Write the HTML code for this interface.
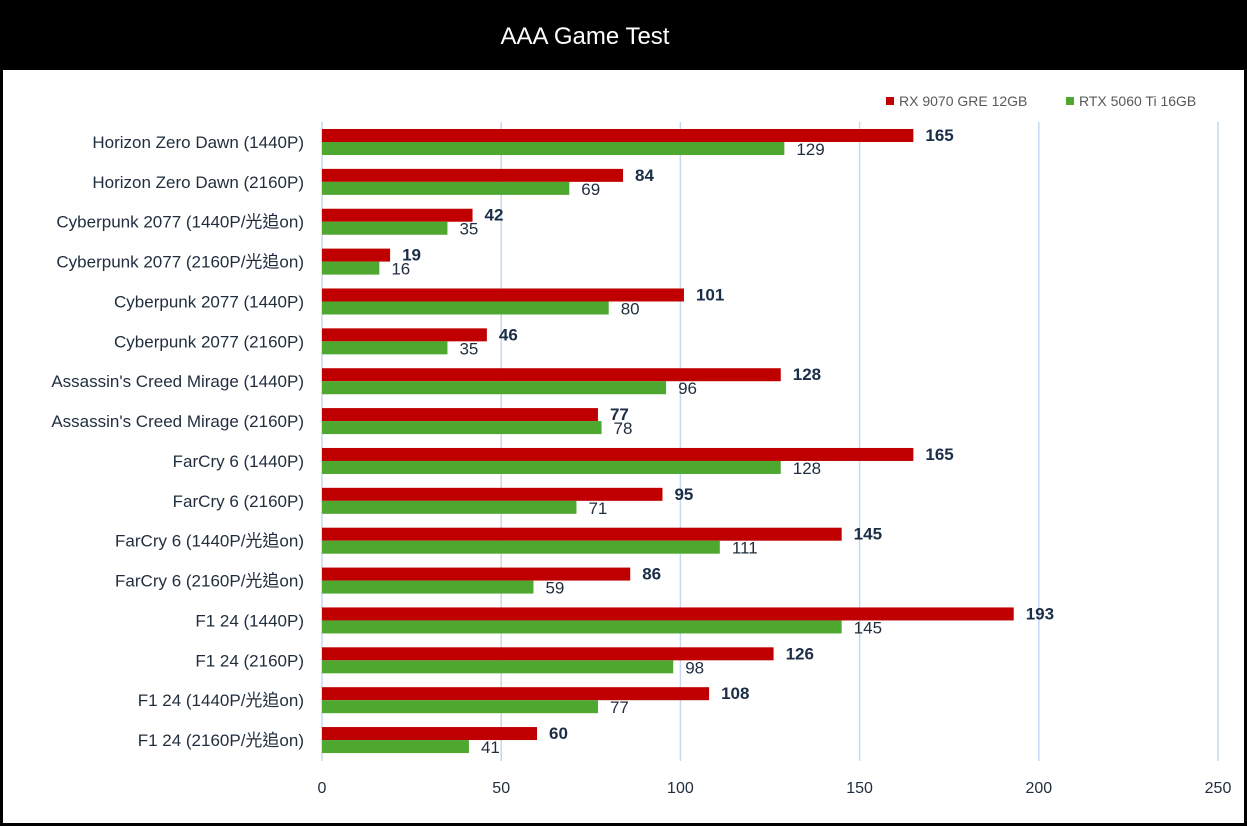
<!DOCTYPE html>
<html><head><meta charset="utf-8"><style>
body{margin:0;background:#000;}
svg{display:block;font-family:"Liberation Sans","Noto Sans CJK TC",sans-serif;}
</style></head><body>
<svg id="c" width="1247" height="826" xmlns="http://www.w3.org/2000/svg">
<rect x="0" y="0" width="1247" height="826" fill="#000"/>
<rect x="3" y="70" width="1241" height="753" fill="#fff"/>
<text x="585" y="44" fill="#fff" font-size="24" text-anchor="middle">AAA Game Test</text>
<g>
<rect x="886" y="97" width="8" height="8" fill="#c00000"/>
<text x="899" y="106" font-size="14" fill="#595959">RX 9070 GRE 12GB</text>
<rect x="1066" y="97" width="8" height="8" fill="#4ea72e"/>
<text x="1079" y="106" font-size="14" fill="#595959">RTX 5060 Ti 16GB</text>
</g>
<g id="grid"></g><g id="bars"></g>
</svg>
<script>
const categories=["Horizon Zero Dawn (1440P)","Horizon Zero Dawn (2160P)","Cyberpunk 2077 (1440P/光追on)","Cyberpunk 2077 (2160P/光追on)","Cyberpunk 2077 (1440P)","Cyberpunk 2077 (2160P)","Assassin's Creed Mirage (1440P)","Assassin's Creed Mirage (2160P)","FarCry 6 (1440P)","FarCry 6 (2160P)","FarCry 6 (1440P/光追on)","FarCry 6 (2160P/光追on)","F1 24 (1440P)","F1 24 (2160P)","F1 24 (1440P/光追on)","F1 24 (2160P/光追on)"];
const rxValues=[165,84,42,19,101,46,128,77,165,95,145,86,193,126,108,60];
const rtxValues=[129,69,35,16,80,35,96,78,128,71,111,59,145,98,77,41];
const xTicks=[0,50,100,150,200,250];
const NS="http://www.w3.org/2000/svg";
const x=v=>322+v*(1218-322)/250;
const yc=i=>142+i*39.87;
function mk(tag,attrs,parent,text){const e=document.createElementNS(NS,tag);for(const k in attrs)e.setAttribute(k,attrs[k]);if(text!==undefined)e.textContent=text;parent.appendChild(e);return e;}
const grid=document.getElementById('grid'),bars=document.getElementById('bars');
xTicks.forEach(t=>{
 const l=mk('line',{x1:x(t),x2:x(t),y1:122,y2:761,stroke:'#c5d9ef','stroke-width':1.5},grid);
 
 
 const tx=mk('text',{x:x(t),y:793,'text-anchor':'middle','font-size':16,fill:'#1f2d3d'},grid,String(t));
 
 
});
categories.forEach((c,i)=>{
 const y=yc(i);
 const lb=mk('text',{x:304,y:y+6,'text-anchor':'end','font-size':17,fill:'#1f2d3d'},bars,c);
 
 
 const r=mk('rect',{x:x(0),y:y-13,width:x(rxValues[i])-x(0),height:13,fill:'#c00000'},bars);
 
 
 const g=mk('rect',{x:x(0),y:y,width:x(rtxValues[i])-x(0),height:13,fill:'#4ea72e'},bars);
 
 
 const rv=mk('text',{x:x(rxValues[i])+12,y:y-1,'font-size':17,'font-weight':'bold',fill:'#1b2e47'},bars,String(rxValues[i]));
 
 
 const gv=mk('text',{x:x(rtxValues[i])+12,y:y+13,'font-size':17,fill:'#1f2d3d'},bars,String(rtxValues[i]));
 
 
});
</script>
</body></html>
